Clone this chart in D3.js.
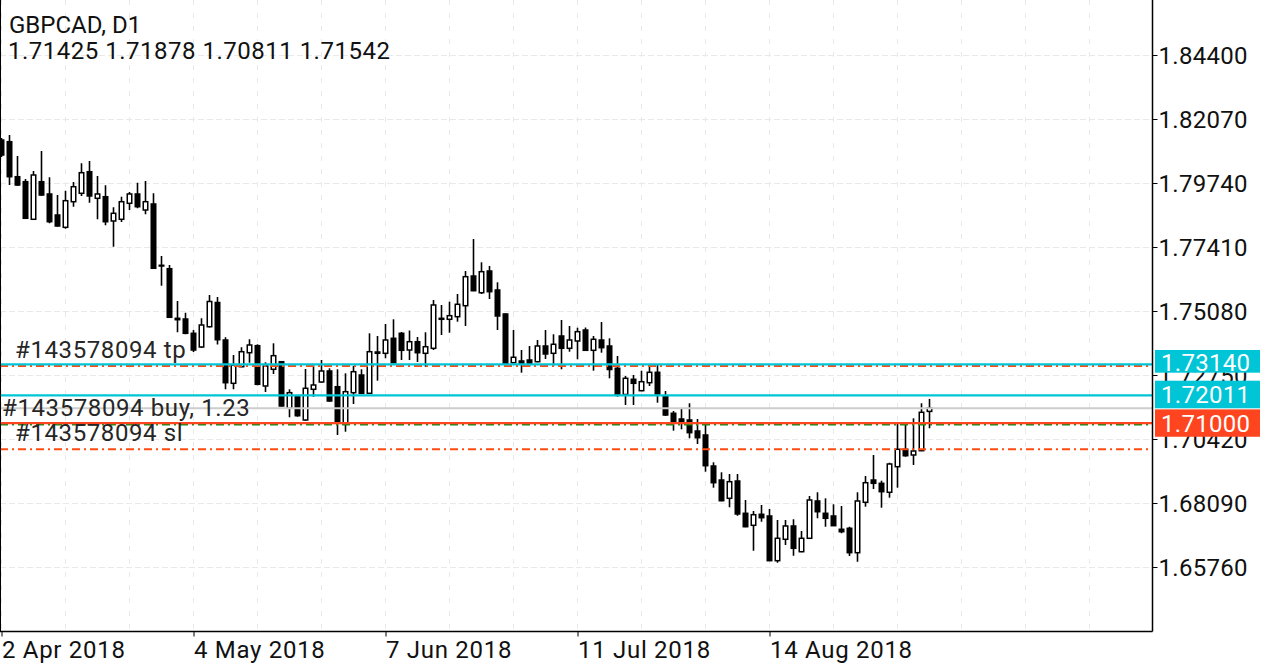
<!DOCTYPE html>
<html><head><meta charset="utf-8">
<script src="https://cdn.jsdelivr.net/npm/d3@7"></script>
<style>html,body{margin:0;padding:0;background:#fff;} svg{display:block;font-family:Roboto,"Noto Sans",sans-serif;}</style>
</head><body><svg id="chart" width="1273" height="667"></svg>
<script>
// ---------- data ----------
const chartTitle = "GBPCAD, D1";
const lastBarText = "1.71425 1.71878 1.70811 1.71542";

const openPrices = [1.81305,1.81244,1.79969,1.79787,1.78419,1.79787,1.79340,1.78575,1.78127,1.79059,
1.79365,1.80151,1.79183,1.79241,1.78357,1.78419,1.79001,1.79340,1.78757,1.78976,
1.76744,1.76620,1.74814,1.74789,1.74268,1.73769,1.74508,1.75389,1.74024,1.72448,
1.73052,1.73562,1.73817,1.72350,1.72958,1.73234,1.71538,1.71997,1.71112,1.72230,
1.72495,1.72896,1.72324,1.70992,1.72106,1.72750,1.72084,1.73540,1.73540,1.74086,
1.74268,1.73660,1.73962,1.73540,1.73722,1.74814,1.74778,1.74873,1.75273,1.76354,
1.75746,1.76536,1.75845,1.74971,1.73198,1.73260,1.73296,1.73234,1.73806,1.73540,
1.74170,1.73722,1.73988,1.74388,1.73649,1.74024,1.73806,1.72994,1.72040,1.72594,
1.72179,1.72470,1.72848,1.71986,1.71356,1.71148,1.71112,1.70711,1.70566,1.69437,
1.68927,1.68261,1.68891,1.67715,1.67278,1.67679,1.67617,1.65990,1.66769,1.67253,
1.66317,1.66805,1.68163,1.67715,1.67617,1.67133,1.67169,1.66281,1.68116,1.68927,
1.68807,1.68480,1.69412,1.70045,1.69838,1.69994,1.71425];
const highPrices = [1.81378,1.81488,1.80723,1.79886,1.80177,1.80905,1.79948,1.79303,1.79460,1.79776,
1.80457,1.80541,1.79995,1.79656,1.78855,1.79241,1.79412,1.79751,1.79813,1.79365,
1.77082,1.76755,1.75444,1.75018,1.74388,1.74814,1.75663,1.75590,1.74123,1.73478,
1.73759,1.74050,1.73868,1.73212,1.73904,1.73260,1.72230,1.72022,1.72969,1.73114,
1.73296,1.72994,1.72958,1.72812,1.73078,1.72958,1.74268,1.74170,1.74607,1.74778,
1.74316,1.74370,1.74134,1.74305,1.75481,1.75299,1.75419,1.75699,1.76536,1.77701,
1.76853,1.76718,1.76125,1.74990,1.74388,1.73660,1.73806,1.74024,1.74388,1.74232,
1.74752,1.74534,1.74472,1.74479,1.74170,1.74680,1.74086,1.73442,1.72714,1.72750,
1.72907,1.73078,1.73114,1.72168,1.71440,1.71538,1.71720,1.71148,1.70966,1.69572,
1.69208,1.69146,1.69146,1.68199,1.67799,1.68017,1.67872,1.67471,1.67471,1.67497,
1.67071,1.68345,1.68480,1.68261,1.68043,1.67981,1.67227,1.68480,1.69073,1.69838,
1.68902,1.69557,1.70966,1.70966,1.71174,1.71720,1.71878];
const lowPrices = [1.80686,1.79667,1.79631,1.78429,1.78393,1.79267,1.78273,1.78149,1.78076,1.78877,
1.79267,1.79023,1.78419,1.78200,1.77421,1.78320,1.78757,1.78819,1.78601,1.76609,
1.76001,1.74825,1.74305,1.74232,1.73587,1.73733,1.74479,1.73860,1.72230,1.72230,
1.73030,1.73198,1.72375,1.72131,1.72787,1.71603,1.71210,1.71232,1.71086,1.71960,
1.72470,1.71778,1.70566,1.70686,1.71694,1.72058,1.72058,1.72543,1.73358,1.73176,
1.73296,1.73296,1.73223,1.73052,1.73660,1.74206,1.74290,1.74691,1.74534,1.75800,
1.75699,1.75517,1.74388,1.73169,1.73176,1.72834,1.73052,1.73212,1.73333,1.73089,
1.72958,1.73598,1.73322,1.73635,1.72907,1.73562,1.72630,1.71960,1.71658,1.71658,
1.72160,1.72350,1.71742,1.71257,1.70722,1.70773,1.70446,1.70238,1.69230,1.68647,
1.68150,1.67934,1.67628,1.67210,1.66354,1.67409,1.65975,1.65917,1.66561,1.66172,
1.66300,1.66790,1.67533,1.67227,1.67250,1.66987,1.66161,1.65953,1.67955,1.68600,
1.67919,1.68283,1.68647,1.69776,1.69474,1.69980,1.70811];
const closePrices = [1.80759,1.79969,1.79667,1.78455,1.80031,1.79303,1.78331,1.78175,1.79096,1.79605,
1.80115,1.79267,1.79340,1.78331,1.78637,1.79059,1.79340,1.78877,1.79059,1.76635,
1.76718,1.74851,1.74763,1.74268,1.73660,1.74570,1.75426,1.74035,1.72470,1.73114,
1.73598,1.73842,1.72411,1.73078,1.73453,1.71622,1.72106,1.71268,1.72266,1.72386,
1.72896,1.71804,1.70992,1.72142,1.72870,1.72084,1.73598,1.73587,1.74024,1.73198,
1.73649,1.73962,1.73562,1.73780,1.75299,1.74778,1.74909,1.75324,1.76329,1.75819,
1.76511,1.75783,1.74898,1.73176,1.73395,1.73176,1.73176,1.73806,1.73515,1.73868,
1.73722,1.74024,1.74327,1.73649,1.74050,1.73744,1.72950,1.72033,1.72630,1.72448,
1.72506,1.72848,1.72058,1.71294,1.71050,1.71050,1.70650,1.70467,1.69448,1.68829,
1.68174,1.68866,1.67690,1.67227,1.67664,1.67555,1.65990,1.66805,1.67253,1.66441,
1.66805,1.68199,1.67773,1.67533,1.67264,1.67045,1.66281,1.68163,1.68829,1.68807,
1.68502,1.69510,1.70045,1.69812,1.69983,1.71392,1.71542];

const priceTicks = [1.84400,1.82070,1.79740,1.77410,1.75080,1.72750,1.70420,1.68090,1.65760];
const dateTickIndex = [0,24,48,72,96];
const dateTickLabels = ["2 Apr 2018","4 May 2018","7 Jun 2018","11 Jul 2018","14 Aug 2018"];

const cyanLevels = [1.73140, 1.72011];
const stopLevel = 1.71000;
const bidPrice = 1.71542;
const orderOpen = 1.70950;
const takeProfit = 1.73080;
const stopLoss = 1.70050;
const orderLabelTexts = ["#143578094 tp", "#143578094 buy, 1.23", "#143578094 sl"];
const priceBoxValues = [1.73140, 1.72011, 1.71000];

// ---------- layout ----------
const W = 1273, H = 667;
const plotRight = 1152.5, plotBottom = 631.5;
const FONT = 24;
const CYAN = "#00c5d6", RED = "#ff4520", ORANGE = "#ff4b12", GREEN = "#138a13";

const svg = d3.select("#chart");
svg.append("rect").attr("width", W).attr("height", H).attr("fill", "#fff");

const x = d3.scaleLinear().domain([0, 144]).range([1.5, 1153.5]);
const y = d3.scaleLinear().domain([1.6576, 1.844]).range([567, 55]);

svg.append("defs").append("clipPath").attr("id", "plotclip")
  .append("rect").attr("x", 0.5).attr("y", 0).attr("width", plotRight - 0.5).attr("height", plotBottom);

// grid
const grid = svg.append("g").attr("clip-path", "url(#plotclip)");
grid.selectAll("line.hg").data(priceTicks).join("line")
  .attr("x1", 0).attr("x2", plotRight)
  .attr("y1", d => Math.round(y(d)) + 0.5).attr("y2", d => Math.round(y(d)) + 0.5)
  .attr("stroke", "#e9e9e9").attr("stroke-width", 1).attr("stroke-dasharray", "6,3");
grid.selectAll("line.vg").data(d3.range(0, 144, 8)).join("line")
  .attr("x1", d => x(d)).attr("x2", d => x(d))
  .attr("y1", 0).attr("y2", plotBottom)
  .attr("stroke", "#e9e9e9").attr("stroke-width", 1).attr("stroke-dasharray", "5,8");

// candles
const candles = openPrices.map((o, i) => ({i, o, h: highPrices[i], l: lowPrices[i], c: closePrices[i]}));
const cg = svg.append("g").attr("clip-path", "url(#plotclip)");
cg.selectAll("line.wick").data(candles).join("line")
  .attr("x1", d => x(d.i)).attr("x2", d => x(d.i))
  .attr("y1", d => y(d.h)).attr("y2", d => y(d.l))
  .attr("stroke", "#000").attr("stroke-width", 1.6);
cg.selectAll("rect.body").data(candles).join("rect")
  .attr("x", d => x(d.i) - 2.25).attr("width", 4.5)
  .attr("y", d => y(Math.max(d.o, d.c)))
  .attr("height", d => Math.max(Math.abs(y(d.o) - y(d.c)), 0.3))
  .attr("fill", d => d.c >= d.o ? "#fff" : "#000")
  .attr("stroke", "#000").attr("stroke-width", 1.5);

// level lines
const lg = svg.append("g");
function hline(p, color, width, dash) {
  lg.append("line").attr("x1", 0).attr("x2", plotRight)
    .attr("y1", y(p)).attr("y2", y(p))
    .attr("stroke", color).attr("stroke-width", width)
    .attr("stroke-dasharray", dash || null);
}
hline(takeProfit, ORANGE, 2, "8,4,2,4");
hline(stopLoss, ORANGE, 2, "8,4,2,4");
hline(bidPrice, "#cdcdcd", 2);
hline(orderOpen, GREEN, 2, "8,4,2,4");
cyanLevels.forEach(p => hline(p, CYAN, 2.2));
hline(stopLevel, RED, 2.2);

// order labels
const labelLevels = [takeProfit, orderOpen, stopLoss];
const labelX = [15, 2, 15];
svg.append("g").selectAll("text").data(orderLabelTexts).join("text")
  .attr("x", (d, i) => labelX[i]).attr("y", (d, i) => y(labelLevels[i]) - 8)
  .attr("font-size", FONT).attr("letter-spacing", 0.6).attr("fill", "#262626").text(d => d);

// frame
svg.append("line").attr("x1", 0.5).attr("x2", 0.5).attr("y1", 0).attr("y2", plotBottom).attr("stroke", "#000").attr("stroke-width", 1);
svg.append("line").attr("x1", 0).attr("x2", plotRight).attr("y1", plotBottom).attr("y2", plotBottom).attr("stroke", "#000").attr("stroke-width", 1.5);
svg.append("line").attr("x1", plotRight).attr("x2", plotRight).attr("y1", 0).attr("y2", plotBottom).attr("stroke", "#000").attr("stroke-width", 1.5);

// right price axis
const yAxis = d3.axisRight(y).tickValues(priceTicks).tickFormat(d3.format(".5f")).tickSize(5).tickPadding(1);
const ya = svg.append("g").attr("transform", `translate(${plotRight},0)`).call(yAxis);
ya.select(".domain").remove();
ya.selectAll(".tick line").attr("stroke", "#000").attr("stroke-width", 1);
ya.selectAll(".tick text").attr("font-size", FONT).attr("font-family", "Roboto").attr("fill", "#111")
  .attr("letter-spacing", 0.3).attr("dy", "0.35em");

// bottom date axis
const xAxis = d3.axisBottom(x).tickValues(dateTickIndex).tickFormat((d, i) => dateTickLabels[i]).tickSize(5);
const xa = svg.append("g").attr("transform", `translate(0,${plotBottom})`).call(xAxis);
xa.select(".domain").remove();
xa.selectAll(".tick line").attr("stroke", "#000").attr("stroke-width", 1);
xa.selectAll(".tick text").attr("font-size", FONT).attr("font-family", "Roboto").attr("fill", "#111")
  .attr("letter-spacing", 0.7).attr("text-anchor", "start").attr("x", 0).attr("y", 26.5).attr("dy", 0);

// price boxes
const boxFill = [CYAN, CYAN, RED];
const boxTop = [-14.3, -14.6, -13.7];
const boxH = [22.7, 27.6, 27.4];
const boxBase = [6.4, 8, 8.7];
const bg = svg.append("g");
priceBoxValues.forEach((p, i) => {
  bg.append("rect").attr("x", 1155).attr("y", y(p) + boxTop[i]).attr("width", 105).attr("height", boxH[i]).attr("fill", boxFill[i]);
  bg.append("text").attr("x", 1161).attr("y", y(p) + boxBase[i]).attr("font-size", FONT).attr("letter-spacing", 0.3).attr("fill", "#fff")
    .text(d3.format(".5f")(p));
});

// title
svg.append("text").attr("x", 9).attr("y", 32.7).attr("font-size", FONT).attr("fill", "#111").text(chartTitle);
svg.append("text").attr("x", 8).attr("y", 59.3).attr("font-size", FONT).attr("letter-spacing", 0.5).attr("fill", "#111").text(lastBarText);
</script></body></html>
